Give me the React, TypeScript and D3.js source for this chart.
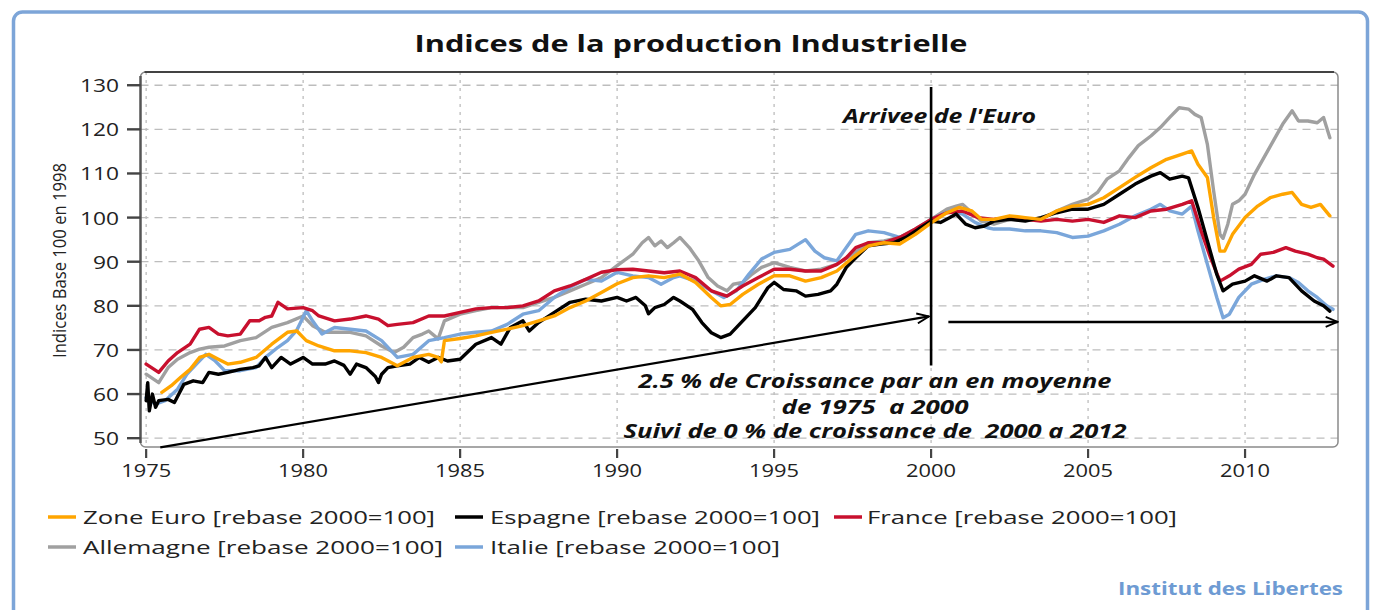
import React from "react";
import * as d3 from "d3";

type P = [number, number];

const titleText = "Indices de la production Industrielle";
const yAxisTitle = "Indices Base 100 en 1998";
const yTicks = [50, 60, 70, 80, 90, 100, 110, 120, 130];
const xTicks = [1975, 1980, 1985, 1990, 1995, 2000, 2005, 2010];

const zoneEuro: P[] = [[1975.5,60.4],[1975.8,61.9],[1976.1,63.8],[1976.4,65.6],[1976.7,68.3],[1977,69],[1977.3,67.9],[1977.6,66.8],[1978,67.2],[1978.5,68.3],[1979,71.3],[1979.5,74],[1979.8,74.3],[1980.1,72.1],[1980.5,70.9],[1981,69.8],[1981.5,69.8],[1982,69.4],[1982.5,68.3],[1983,66.4],[1983.5,68.3],[1984,69],[1984.3,68.3],[1984.4,67.3],[1984.5,72.1],[1985,72.6],[1985.5,73.2],[1986,74],[1986.5,74.7],[1987,75.5],[1987.5,76.6],[1988,77.7],[1988.5,79.6],[1989,81.1],[1989.5,83],[1990,85],[1990.5,86.4],[1991,86.8],[1991.5,86.4],[1992,87.2],[1992.5,85.3],[1993,81.9],[1993.3,80],[1993.6,80.3],[1994,82.6],[1994.5,84.9],[1995,86.8],[1995.5,86.8],[1996,85.6],[1996.5,86.4],[1997,87.9],[1997.5,90.9],[1998,93.6],[1998.5,94.3],[1999,94],[1999.5,96.2],[2000,98.8],[2000.5,101.1],[2000.9,102.3],[2001.3,101.5],[2001.6,99.6],[2002,99.6],[2002.5,100.4],[2003,100],[2003.5,99.6],[2004,101.5],[2004.5,102.6],[2005,103],[2005.5,104.5],[2006,106.8],[2006.5,109.1],[2007,111.3],[2007.5,113.2],[2008,114.4],[2008.3,115.1],[2008.5,112.1],[2008.8,109.1],[2009,100],[2009.2,92.4],[2009.35,92.4],[2009.6,96.2],[2010,100],[2010.4,102.6],[2010.8,104.5],[2011.2,105.3],[2011.5,105.7],[2011.8,103],[2012.1,102.3],[2012.4,103],[2012.7,100.4]];

const espagne: P[] = [[1975,58.5],[1975.05,62.6],[1975.1,56.2],[1975.2,60],[1975.3,57],[1975.4,58.5],[1975.7,58.8],[1975.9,58.1],[1976.2,62.2],[1976.5,63],[1976.8,62.6],[1977,64.9],[1977.3,64.5],[1977.6,64.9],[1978,65.6],[1978.4,66],[1978.6,66.4],[1978.8,68.3],[1979,66],[1979.3,68.3],[1979.6,66.8],[1980,68.3],[1980.3,66.8],[1980.7,66.8],[1981,67.5],[1981.3,66.5],[1981.5,64.5],[1981.7,66.8],[1982,66],[1982.3,64],[1982.4,62.6],[1982.5,64.5],[1982.7,66],[1983,66.4],[1983.4,66.8],[1983.7,68.3],[1984,67.2],[1984.3,68.3],[1984.6,67.5],[1985,67.9],[1985.5,71.3],[1986,72.8],[1986.3,71.3],[1986.6,75.1],[1987,76.6],[1987.2,74.3],[1987.5,76.2],[1988,78.5],[1988.5,80.8],[1989,81.5],[1989.5,81.1],[1990,81.9],[1990.3,81.1],[1990.6,81.9],[1990.9,80],[1991,78.2],[1991.2,79.6],[1991.5,80.3],[1991.8,81.9],[1992,81.1],[1992.4,79.2],[1992.7,76.2],[1993,73.9],[1993.3,72.8],[1993.6,73.6],[1994,76.6],[1994.4,79.6],[1994.8,84.1],[1995,85.3],[1995.3,83.7],[1995.7,83.4],[1996,82.2],[1996.4,82.6],[1996.8,83.4],[1997,84.9],[1997.3,88.7],[1997.6,90.9],[1998,93.6],[1998.4,94],[1998.8,94.3],[1999.2,95.5],[1999.6,97.4],[2000,99.2],[2000.3,98.9],[2000.6,100],[2000.8,100.8],[2001.1,98.5],[2001.4,97.7],[2001.7,98.1],[2002,99.2],[2002.5,99.6],[2003,99.2],[2003.5,100],[2004,101.1],[2004.5,101.9],[2005,101.9],[2005.5,103],[2006,105.3],[2006.5,107.6],[2007,109.4],[2007.3,110.2],[2007.6,108.7],[2008,109.4],[2008.2,109],[2008.5,102.3],[2008.8,94.7],[2009.1,87.1],[2009.3,83.4],[2009.6,84.9],[2010,85.6],[2010.3,86.8],[2010.7,85.6],[2011,86.8],[2011.4,86.4],[2011.8,83.4],[2012.2,81.1],[2012.5,80],[2012.7,78.8]];

const france: P[] = [[1975,66.8],[1975.4,64.9],[1975.7,67.5],[1976,69.4],[1976.4,71.3],[1976.7,74.7],[1977,75.1],[1977.3,73.6],[1977.6,73.2],[1978,73.6],[1978.3,76.6],[1978.6,76.6],[1978.8,77.4],[1979,77.7],[1979.2,80.8],[1979.5,79.3],[1980,79.6],[1980.3,78.9],[1980.5,77.7],[1981,76.6],[1981.5,77],[1982,77.7],[1982.4,77],[1982.7,75.5],[1983,75.8],[1983.5,76.2],[1984,77.7],[1984.5,77.7],[1985,78.5],[1985.5,79.3],[1986,79.6],[1986.5,79.6],[1987,80],[1987.5,81.1],[1988,83.4],[1988.5,84.5],[1989,86],[1989.5,87.6],[1990,88.2],[1990.5,88.3],[1991,87.9],[1991.5,87.5],[1992,87.9],[1992.5,86.4],[1993,83.4],[1993.5,82.2],[1994,84.5],[1994.5,86.4],[1995,88.3],[1995.5,88.3],[1996,87.9],[1996.5,87.9],[1997,89.4],[1997.3,90.9],[1997.6,93.2],[1998,94.3],[1998.5,94.3],[1999,95.5],[1999.5,97.4],[2000,99.6],[2000.5,101.1],[2001,101.5],[2001.5,100],[2002,99.6],[2002.5,100],[2003,99.6],[2003.5,99.2],[2004,99.6],[2004.5,99.2],[2005,99.6],[2005.5,98.9],[2006,100.4],[2006.5,100],[2007,101.5],[2007.5,101.9],[2008,103],[2008.3,103.8],[2008.6,97],[2008.9,90.9],[2009.2,85.6],[2009.5,86.8],[2009.8,88.3],[2010.2,89.4],[2010.5,91.7],[2010.9,92.1],[2011.3,93.2],[2011.6,92.4],[2012,91.7],[2012.3,90.9],[2012.5,90.6],[2012.8,89]];

const allemagne: P[] = [[1975,64.5],[1975.4,62.6],[1975.7,66],[1976,67.9],[1976.4,69.4],[1976.7,70.2],[1977,70.6],[1977.5,70.9],[1978,72.1],[1978.5,72.8],[1979,75.1],[1979.5,76.2],[1980,77.7],[1980.3,75.5],[1980.7,74],[1981,74],[1981.5,74],[1982,73.2],[1982.5,70.9],[1982.9,69.4],[1983.2,70.6],[1983.5,72.8],[1983.8,73.6],[1984,74.3],[1984.3,72.5],[1984.5,76.6],[1985,78.1],[1985.5,78.9],[1986,79.6],[1986.5,79.6],[1987,79.6],[1987.5,80.8],[1988,81.9],[1988.5,83.4],[1989,84.9],[1989.5,86.4],[1990,89.1],[1990.5,91.7],[1990.8,94.3],[1991,95.5],[1991.2,93.6],[1991.4,94.7],[1991.6,93.2],[1991.8,94.3],[1992,95.5],[1992.3,93.2],[1992.6,90.2],[1992.9,86.4],[1993.2,84.5],[1993.5,83.4],[1993.7,84.9],[1994,85.3],[1994.3,87.2],[1994.6,88.7],[1995,89.8],[1995.5,88.7],[1996,87.9],[1996.5,88.3],[1997,89.4],[1997.5,91.7],[1998,94.3],[1998.5,94.7],[1999,95.5],[1999.5,97.4],[2000,99.6],[2000.5,101.9],[2000.8,102.6],[2001,103],[2001.3,101.1],[2001.6,99.2],[2002,98.5],[2002.5,99.6],[2003,99.6],[2003.5,99.6],[2004,101.5],[2004.5,103],[2005,104.2],[2005.3,105.7],[2005.6,108.7],[2006,110.6],[2006.3,113.6],[2006.6,116.3],[2007,118.5],[2007.3,120.4],[2007.6,122.7],[2007.9,124.9],[2008.2,124.6],[2008.4,123.4],[2008.6,122.7],[2008.8,116.6],[2009,106],[2009.2,96.2],[2009.3,95.3],[2009.45,98.5],[2009.6,103],[2009.8,103.8],[2010,105.3],[2010.3,109.8],[2010.6,113.6],[2010.9,117.4],[2011.2,121.2],[2011.5,124.2],[2011.7,121.9],[2012,121.9],[2012.3,121.5],[2012.5,122.7],[2012.7,118.1]];

const italie: P[] = [[1975,59.2],[1975.3,57.7],[1975.6,58.5],[1976,61.1],[1976.3,64.5],[1976.6,66.8],[1976.9,69],[1977.2,67.5],[1977.5,65.3],[1978,65.3],[1978.5,66],[1978.8,68.3],[1979.2,70.6],[1979.5,72.1],[1979.8,74.5],[1980.1,78.9],[1980.3,76.6],[1980.6,73.6],[1981,75.1],[1981.5,74.7],[1982,74.3],[1982.5,72.1],[1983,68.3],[1983.5,69],[1984,72.1],[1984.5,72.8],[1985,73.6],[1985.5,74],[1986,74.3],[1986.5,75.8],[1987,78.1],[1987.5,78.9],[1988,81.9],[1988.5,84.2],[1989,86],[1989.5,85.6],[1990,87.6],[1990.5,86.8],[1991,86.4],[1991.4,84.9],[1991.8,86.4],[1992,86.8],[1992.5,85.6],[1993,83.4],[1993.4,81.9],[1993.8,83.4],[1994.2,87.2],[1994.6,90.6],[1995,92.1],[1995.5,92.8],[1996,95],[1996.3,92.4],[1996.6,90.9],[1997,90.2],[1997.3,93.2],[1997.6,96.2],[1998,97],[1998.5,96.6],[1999,95.5],[1999.5,97],[2000,99.6],[2000.6,101.5],[2001,100.8],[2001.4,98.9],[2001.8,97.7],[2002,97.4],[2002.5,97.4],[2003,97],[2003.5,97],[2004,96.6],[2004.5,95.5],[2005,95.8],[2005.5,97],[2006,98.5],[2006.5,100.4],[2007,101.9],[2007.3,103],[2007.6,101.5],[2008,100.8],[2008.3,102.6],[2008.5,97],[2008.8,89.4],[2009.1,81.9],[2009.3,77.3],[2009.5,78.1],[2009.8,81.9],[2010.2,84.9],[2010.6,86],[2011,86.8],[2011.4,86.4],[2011.7,85.3],[2012,83.4],[2012.3,81.9],[2012.6,80],[2012.8,79.2]];

const seriesNames = [
  "Zone Euro [rebase 2000=100]",
  "Espagne [rebase 2000=100]",
  "France [rebase 2000=100]",
  "Allemagne [rebase 2000=100]",
  "Italie [rebase 2000=100]",
];

const euroYear = 2000;
const euroLabel = "Arrivee de l'Euro";
const trendArrow1: P[] = [[1975.45, 47.9], [1999.93, 77.6]];
const trendArrow2: P[] = [[2000.55, 76.35], [2012.95, 76.35]];
const annotationLines = [
  "2.5 % de Croissance par an en moyenne",
  "de 1975  a 2000",
  "Suivi de 0 % de croissance de  2000 a 2012",
];
const footerText = "Institut des Libertes";

const W = 1373;
const H = 610;
const left = 140.5, right = 1338, top = 72, bottom = 447;

export default function App() {
  const x = d3.scaleLinear().domain([1974.82, 2012.96]).range([left, right]);
  const y = d3.scaleLinear().domain([48, 133]).range([bottom, top]);
  const line = d3.line<P>().x((d) => x(d[0])).y((d) => y(d[1]));

  const colors = {
    euro: "#FFA500",
    esp: "#000000",
    fra: "#C8102E",
    all: "#A0A0A0",
    ita: "#7AA6DA",
  };

  const drawOrder = [
    { data: allemagne, color: colors.all },
    { data: italie, color: colors.ita },
    { data: france, color: colors.fra },
    { data: espagne, color: colors.esp },
    { data: zoneEuro, color: colors.euro },
  ];

  const legendRows = [
    [
      { name: seriesNames[0], color: colors.euro, sx: 48, tx: 83, tl: 352 },
      { name: seriesNames[1], color: colors.esp, sx: 455, tx: 490, tl: 330 },
      { name: seriesNames[2], color: colors.fra, sx: 834, tx: 867, tl: 310 },
    ],
    [
      { name: seriesNames[3], color: colors.all, sx: 48, tx: 83, tl: 360 },
      { name: seriesNames[4], color: colors.ita, sx: 455, tx: 490, tl: 290 },
    ],
  ];

  const font = "'Open Sans', 'Noto Sans', sans-serif";
  const annW = [473, 187, 503];
  const annY = [381, 407, 431];

  return (
    <svg width={W} height={H} style={{ position: "absolute", left: 0, top: 0, background: "#fff" }} fontFamily={font}>
      <defs>
        <marker id="openArrow" viewBox="0 0 14 12" refX="13" refY="6" markerWidth="14" markerHeight="12" markerUnits="userSpaceOnUse" orient="auto">
          <path d="M1,1 L13,6 L1,11" fill="none" stroke="#000" strokeWidth={1.8} />
        </marker>
        <clipPath id="plotClip">
          <rect x={left} y={top} width={right - left} height={bottom - top} />
        </clipPath>
      </defs>
      <rect x={0} y={0} width={W} height={H} fill="#fff" />
      <rect x={13.5} y={12} width={1354} height={640} rx={9} fill="none" stroke="#7DA5D8" strokeWidth={3.5} />

      <text x={691} y={43} textAnchor="middle" dominantBaseline="central" fontSize={23} fontWeight="bold" fill="#111" textLength={553} lengthAdjust="spacingAndGlyphs">{titleText}</text>

      {yTicks.map((t) => (
        <line key={"gy" + t} x1={left} x2={right} y1={y(t)} y2={y(t)} stroke="#BDBDBD" strokeWidth={1.3} strokeDasharray="8 6" />
      ))}
      {xTicks.map((t) => (
        <line key={"gx" + t} x1={x(t)} x2={x(t)} y1={top} y2={bottom} stroke="#BDBDBD" strokeWidth={1.3} strokeDasharray="3 5" />
      ))}

      <rect x={left} y={top} width={right - left} height={bottom - top} rx={5} fill="none" stroke="#8A8A8A" strokeWidth={1.5} />
      <line x1={left + 4} x2={right - 4} y1={top} y2={top} stroke="#222" strokeWidth={1.6} />
      <line x1={left} x2={left} y1={top + 4} y2={bottom - 4} stroke="#555" strokeWidth={2.4} />

      {yTicks.map((t) => (
        <g key={"ty" + t}>
          <line x1={127} x2={left} y1={y(t)} y2={y(t)} stroke="#444" strokeWidth={2.4} />
          <text x={119} y={y(t)} textAnchor="end" dominantBaseline="central" fontSize={19} fill="#222" textLength={String(t).length * 13} lengthAdjust="spacingAndGlyphs">{t}</text>
        </g>
      ))}
      {xTicks.map((t) => (
        <g key={"tx" + t}>
          <line x1={x(t)} x2={x(t)} y1={bottom + 2} y2={bottom + 11} stroke="#444" strokeWidth={2.2} />
          <text x={x(t)} y={470} textAnchor="middle" dominantBaseline="central" fontSize={19} fill="#222" textLength={50} lengthAdjust="spacingAndGlyphs">{t}</text>
        </g>
      ))}

      <text transform="translate(59,260.5) rotate(-90)" textAnchor="middle" dominantBaseline="central" fontSize={19} fill="#222" textLength={195} lengthAdjust="spacingAndGlyphs">{yAxisTitle}</text>

      <g clipPath="url(#plotClip)">
        {drawOrder.map((s, i) => (
          <path key={i} d={line(s.data) || ""} fill="none" stroke={s.color} strokeWidth={3.4} strokeLinejoin="round" strokeLinecap="round" />
        ))}
      </g>

      <line x1={x(euroYear)} x2={x(euroYear)} y1={y(129.6)} y2={y(66.5)} stroke="#000" strokeWidth={2.6} />
      <text x={939.5} y={116} textAnchor="middle" dominantBaseline="central" fontSize={19} fontWeight="bold" fontStyle="italic" fill="#111" textLength={193} lengthAdjust="spacingAndGlyphs">{euroLabel}</text>

      <path d={line(trendArrow1) || ""} fill="none" stroke="#000" strokeWidth={2.2} markerEnd="url(#openArrow)" />
      <path d={line(trendArrow2) || ""} fill="none" stroke="#000" strokeWidth={2.4} markerEnd="url(#openArrow)" />

      {annotationLines.map((t, i) => (
        <text key={"an" + i} x={875} y={annY[i]} textAnchor="middle" dominantBaseline="central" fontSize={19} fontWeight="bold" fontStyle="italic" fill="#111" textLength={annW[i]} lengthAdjust="spacingAndGlyphs" style={{ whiteSpace: "pre" }}>{t}</text>
      ))}

      {legendRows.map((row, ri) =>
        row.map((it) => {
          const ly = 517 + ri * 30;
          return (
            <g key={it.name}>
              <line x1={it.sx} x2={it.sx + 28} y1={ly} y2={ly} stroke={it.color} strokeWidth={3.5} />
              <text x={it.tx} y={ly} dominantBaseline="central" fontSize={19} fill="#222" textLength={it.tl} lengthAdjust="spacingAndGlyphs">{it.name}</text>
            </g>
          );
        })
      )}

      <text x={1118} y={588} dominantBaseline="central" fontSize={17} fontWeight="bold" fill="#6E9BD3" textLength={225} lengthAdjust="spacingAndGlyphs">{footerText}</text>
    </svg>
  );
}
